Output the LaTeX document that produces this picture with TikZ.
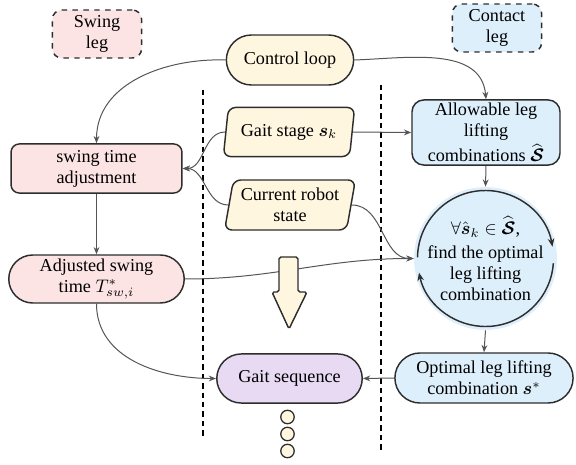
\documentclass[tikz,border=0pt]{standalone}
\usepackage{amsmath,amssymb}
\usepackage{fontspec}
\setmainfont{Liberation Serif}
\usetikzlibrary{arrows.meta,shapes.misc,shapes.geometric}
\definecolor{gPink}{RGB}{253,228,228}
\definecolor{gBlue}{RGB}{222,239,252}
\definecolor{gCream}{RGB}{255,246,224}
\definecolor{gLilac}{RGB}{232,218,242}
\definecolor{gEdge}{RGB}{45,45,45}
\definecolor{gLine}{RGB}{85,85,85}
\tikzset{
  boxbase/.style={draw=gEdge, line width=0.8pt, align=center, inner sep=1pt,
    font=\fontsize{10}{11.5}\selectfont},
  tagbox/.style={boxbase, dashed, rounded corners=5pt,
    minimum width=49pt, minimum height=26.4pt},
  rbox/.style={boxbase, rectangle, rounded corners=4.5pt},
  pill/.style={boxbase, rounded rectangle},
  slant/.style={boxbase, trapezium, trapezium left angle=78,
    trapezium right angle=102, trapezium stretches=true, rounded corners=4pt},
  dotc/.style={circle, draw=gEdge, line width=0.7pt, fill=gCream,
    minimum size=7.4pt, inner sep=0pt},
  flowln/.style={-{Stealth[length=4pt,width=3.2pt]}, line width=0.55pt, gLine},
  looparc/.style={-{Stealth[length=4.5pt,width=3.6pt]}, line width=0.8pt, gEdge},
  sepln/.style={dash pattern=on 3pt off 2.2pt, line width=0.7pt, black},
  bigarrow/.style={draw=gEdge, line width=0.8pt, fill=gCream, rounded corners=1pt},
}

\begin{document}
\begin{tikzpicture}[x=0.55pt, y=0.55pt]
  \useasboundingbox (0,0) rectangle (576,464);
  % --- leg tags ---
  \node[tagbox, fill=gPink] (swingtag) at (97,430) {Swing\\leg};
  \node[tagbox, fill=gBlue] (contacttag) at (497,436) {Contact\\leg};
  % --- separators ---
  \draw[sepln] (203,374) -- (203,27);
  \draw[sepln] (381,379) -- (381,12);
  % --- middle column ---
  \node[pill, fill=gCream, minimum width=72pt, minimum height=27.5pt] (ctrl) at (290,404) {Control loop};
  \node[slant, fill=gCream, minimum width=72.6pt, minimum height=27pt] (stage) at (289,332) {Gait stage $\boldsymbol{s}_k$};
  \node[slant, fill=gCream, minimum width=72pt, minimum height=27.5pt] (state) at (290,259) {Current robot\\state};
  \node[pill, fill=gLilac, minimum width=82pt, minimum height=27pt] (seq) at (289.5,85.5) {Gait sequence};
  \foreach \y [count=\i] in {47,30,13}
    \node[dotc] (dot\i) at (287.5,\y) {};
  % --- swing leg column ---
  \node[rbox, fill=gPink, minimum width=94pt, minimum height=27pt] (adjust) at (96.5,295.5) {swing time\\adjustment};
  \node[pill, fill=gPink, minimum width=98.5pt, minimum height=26.4pt] (tsw) at (96.5,185) {Adjusted swing\\time $T^{*}_{sw,i}$};
  % --- contact leg column ---
  \node[rbox, fill=gBlue, rounded corners=6.5pt, minimum width=81.4pt, minimum height=35.8pt] (allow) at (486,331.5)
    {Allowable leg\\lifting\\[1pt]combinations $\widehat{\boldsymbol{\mathcal{S}}}$};
  \node[circle, fill=gBlue, minimum size=74.8pt, inner sep=0pt, align=center,
    font=\fontsize{10}{11.5}\selectfont] (search) at (485.5,205.5)
    {$\forall\hat{\boldsymbol{s}}_k\in\widehat{\boldsymbol{\mathcal{S}}}$,\\[1.5pt]find the optimal\\leg lifting\\combination};
  \node[pill, fill=gBlue, minimum width=100pt, minimum height=27.5pt] (best) at (484,86)
    {Optimal leg lifting\\combination $\boldsymbol{s}^{*}$};
  % loop arrows round the search
  \draw[looparc] ([shift={(179:68)}]search.center) arc[start angle=179, end angle=10, radius=68];
  \draw[looparc] ([shift={(-4:68)}]search.center) arc[start angle=-4, end angle=-168, radius=68];
  % --- connectors ---
  \draw[flowln] (ctrl.west) to[out=178, in=90] (adjust.north);
  \draw[flowln] (ctrl.east) to[out=2, in=95] (allow.north);
  \draw[flowln] (stage.east) -- (allow.west);
  \draw[flowln] (stage.west) to[out=180, in=0] (adjust.east);
  \draw[flowln] (state.west) to[out=180, in=0] (adjust.east);
  \draw[flowln] (adjust.south) -- (tsw.north);
  \draw[flowln] (tsw.east) to[out=0, in=180] (search.west);
  \draw[flowln] (state.east) to[out=0, in=180] (search.west);
  \draw[flowln] (allow.south) -- (search.north);
  \draw[flowln] (search.south) -- (best.north);
  \draw[flowln] (best.west) -- (seq.east);
  \draw[flowln] (tsw.south) to[out=270, in=180] (seq.west);
  % big down arrow
  \draw[bigarrow] (279,207) -- (298,207) -- (298,172) -- (307,172) -- (289,135)
    -- (272,172) -- (279,172) -- cycle;
\end{tikzpicture}
\end{document}
